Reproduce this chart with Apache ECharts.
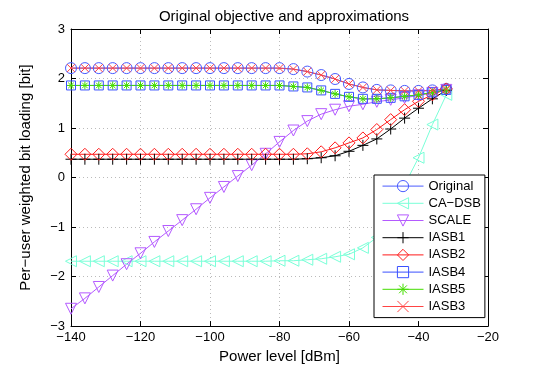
<!DOCTYPE html>
<html>
<head>
<meta charset="utf-8">
<script src="https://cdn.jsdelivr.net/npm/echarts@6/dist/echarts.min.js"></script>
<style>
  html, body { margin: 0; padding: 0; background: #fff; }
  #chart { width: 540px; height: 369px; }
</style>
</head>
<body>
<div id="chart"></div>
<script>
// power level of each sample [dBm]
var powerLevels = [-140, -136, -132, -128, -124, -120, -116, -112, -108, -104, -100, -96, -92, -88,
                   -84, -80, -76, -72, -68, -64, -60, -56, -52, -48, -44, -40, -36, -32];

// per-user weighted bit loading [bit]
var original = [2.21, 2.21, 2.21, 2.21, 2.21, 2.21, 2.21, 2.21, 2.21, 2.21, 2.21, 2.21, 2.21, 2.21,
                2.21, 2.21, 2.19, 2.14, 2.07, 1.99, 1.89, 1.82, 1.77, 1.76, 1.75, 1.75, 1.76, 1.79];
var caDsb    = [-1.69, -1.69, -1.69, -1.69, -1.69, -1.69, -1.69, -1.69, -1.69, -1.69, -1.69, -1.69, -1.69, -1.69,
                -1.69, -1.68, -1.68, -1.66, -1.64, -1.60, -1.55, -1.42, -1.21, -0.75, -0.15, 0.40, 1.07, 1.67];
var scale    = [-2.65, -2.44, -2.21, -1.98, -1.75, -1.53, -1.30, -1.08, -0.86, -0.64, -0.41, -0.19, 0.03, 0.25,
                0.48, 0.72, 0.95, 1.14, 1.28, 1.37, 1.44, 1.48, 1.53, 1.57, 1.61, 1.66, 1.71, 1.77];
var iasb1    = [0.37, 0.37, 0.37, 0.37, 0.37, 0.37, 0.37, 0.37, 0.37, 0.37, 0.37, 0.37, 0.37, 0.37,
                0.37, 0.37, 0.37, 0.38, 0.40, 0.44, 0.53, 0.65, 0.78, 0.98, 1.20, 1.40, 1.59, 1.76];
var iasb2    = [0.47, 0.47, 0.47, 0.47, 0.47, 0.47, 0.47, 0.47, 0.47, 0.47, 0.47, 0.47, 0.47, 0.47,
                0.47, 0.47, 0.47, 0.48, 0.52, 0.60, 0.70, 0.80, 0.97, 1.17, 1.37, 1.54, 1.67, 1.79];
var iasb4    = [1.86, 1.86, 1.86, 1.86, 1.86, 1.86, 1.86, 1.86, 1.86, 1.86, 1.86, 1.86, 1.86, 1.86,
                1.86, 1.86, 1.84, 1.82, 1.76, 1.69, 1.63, 1.59, 1.59, 1.61, 1.64, 1.67, 1.72, 1.77];
var iasb5    = [1.86, 1.86, 1.86, 1.86, 1.86, 1.86, 1.86, 1.86, 1.86, 1.86, 1.86, 1.86, 1.86, 1.86,
                1.86, 1.86, 1.84, 1.82, 1.76, 1.69, 1.63, 1.59, 1.59, 1.61, 1.64, 1.67, 1.72, 1.77];
var iasb3    = [2.21, 2.21, 2.21, 2.21, 2.21, 2.21, 2.21, 2.21, 2.21, 2.21, 2.21, 2.21, 2.21, 2.21,
                2.21, 2.21, 2.19, 2.14, 2.07, 1.99, 1.89, 1.82, 1.77, 1.76, 1.75, 1.75, 1.76, 1.79];

var xTicks = [-140, -120, -100, -80, -60, -40, -20];
var yTicks = [-3, -2, -1, 0, 1, 2, 3];

var FONT = 'Liberation Sans';
var PLUS = 'path://M5,0L5,10M0,5L10,5';
var CROSS = 'path://M0,0L10,10M0,10L10,0';
var STAR = 'path://M5,0L5,10M0,5L10,5M1.5,1.5L8.5,8.5M1.5,8.5L8.5,1.5';

function minus(v) {
  return String(v).replace('-', '\u2212');
}

function makeSeries(name, values, color, symbol, size, rotate) {
  var pts = [];
  for (var i = 0; i < powerLevels.length; i++) {
    pts.push([powerLevels[i], values[i]]);
  }
  return {
    name: name,
    type: 'line',
    data: pts,
    symbol: symbol,
    symbolSize: size,
    symbolRotate: rotate || 0,
    showAllSymbol: true,
    lineStyle: { color: color, width: 1 },
    itemStyle: { color: 'none', borderColor: color, borderWidth: 1 },
    emphasis: { disabled: true }
  };
}

var chart = echarts.init(document.getElementById('chart'), null, { renderer: 'canvas' });

var axisLine = { show: true, onZero: false, lineStyle: { color: '#000', width: 1 } };
var axisTick = { show: true, inside: true, length: 5, lineStyle: { color: '#000' } };

chart.setOption({
  animation: false,
  backgroundColor: '#fff',
  title: {
    text: 'Original objective and approximations',
    left: 279, top: 4, textAlign: 'center',
    textStyle: { fontFamily: FONT, fontSize: 15, fontWeight: 'normal', color: '#000' }
  },
  grid: { left: 71, right: 52, top: 29, bottom: 42 },
  legend: {
    orient: 'vertical',
    left: 374, top: 175,
    backgroundColor: '#fff',
    borderColor: '#000', borderWidth: 1, borderRadius: 0,
    padding: [3, 4, 3, 8],
    itemGap: 1, itemWidth: 41, itemHeight: 14,
    lineStyle: { width: 1 },
    itemStyle: { borderWidth: 1 },
    textStyle: { fontFamily: FONT, fontSize: 13, color: '#000' },
    data: ['Original', 'CA\u2212DSB', 'SCALE', 'IASB1', 'IASB2', 'IASB4', 'IASB5', 'IASB3']
  },
  xAxis: [{
    type: 'value', min: xTicks[0], max: xTicks[xTicks.length - 1], interval: 20,
    name: 'Power level [dBm]', nameLocation: 'middle', nameGap: 22,
    nameTextStyle: { fontFamily: FONT, fontSize: 15, color: '#000' },
    axisLine: axisLine, axisTick: axisTick,
    axisLabel: { fontFamily: FONT, fontSize: 13, color: '#000', margin: 5, formatter: minus },
    splitLine: { show: true, lineStyle: { color: '#bbb', type: [1, 3] } }
  }, {
    type: 'value', position: 'top', min: xTicks[0], max: xTicks[xTicks.length - 1], interval: 20,
    axisLine: axisLine, axisTick: axisTick,
    axisLabel: { show: false }, splitLine: { show: false }
  }],
  yAxis: [{
    type: 'value', min: yTicks[0], max: yTicks[yTicks.length - 1], interval: 1,
    name: 'Per\u2212user weighted bit loading [bit]', nameLocation: 'middle', nameGap: 38,
    nameTextStyle: { fontFamily: FONT, fontSize: 15, color: '#000' },
    axisLine: axisLine, axisTick: axisTick,
    axisLabel: { fontFamily: FONT, fontSize: 13, color: '#000', margin: 6, formatter: minus },
    splitLine: { show: true, lineStyle: { color: '#bbb', type: [1, 3] } }
  }, {
    type: 'value', position: 'right', min: yTicks[0], max: yTicks[yTicks.length - 1], interval: 1,
    axisLine: axisLine, axisTick: axisTick,
    axisLabel: { show: false }, splitLine: { show: false }
  }],
  series: [
    makeSeries('Original', original, '#4a5cff', 'circle', 11),
    makeSeries('CA\u2212DSB', caDsb, '#7affd8', 'triangle', 11, 90),
    makeSeries('SCALE', scale, '#b45aff', 'triangle', 11, 180),
    makeSeries('IASB1', iasb1, '#000000', PLUS, 11),
    makeSeries('IASB2', iasb2, '#ff1a1a', 'diamond', 12),
    makeSeries('IASB4', iasb4, '#3a50ff', 'rect', 9),
    makeSeries('IASB5', iasb5, '#44dd00', STAR, 8),
    makeSeries('IASB3', iasb3, '#ff4444', CROSS, 8)
  ]
});
</script>
</body>
</html>
